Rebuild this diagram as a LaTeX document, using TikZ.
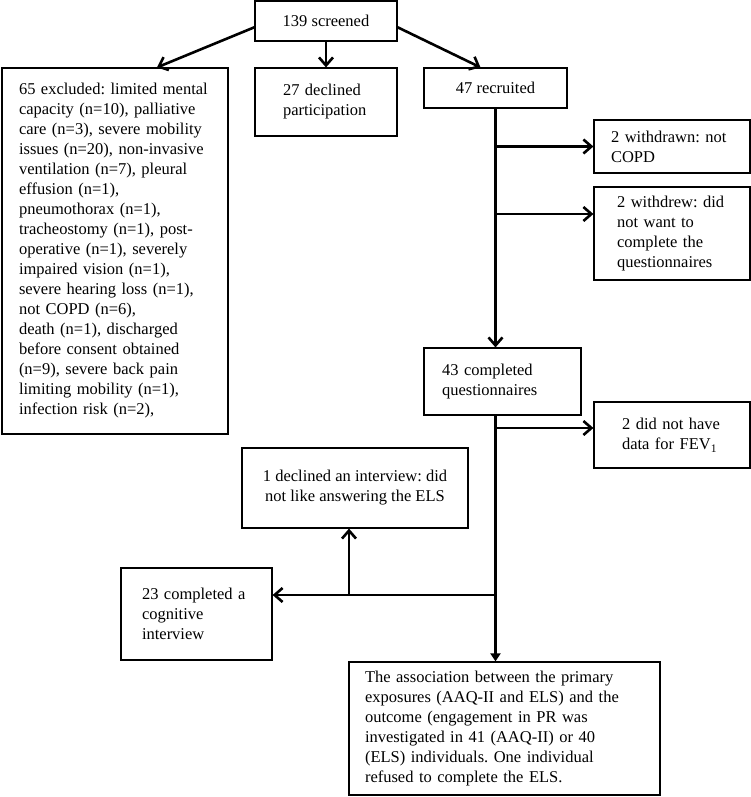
\documentclass[tikz,border=0pt]{standalone}
\usepackage{fontspec}
\setmainfont{Liberation Serif}
\usetikzlibrary{arrows.meta, calc, positioning}

\begin{document}
\begin{tikzpicture}[x=1pt, y=-1pt, > = {Straight Barb[length=8pt,width=14pt]},
	box/.style={draw, line width=1.2pt, inner sep=0pt, align=left, font=\fontsize{16.5}{20}\selectfont\frenchspacing},
	flow/.style={->, line width=2.6pt}]
	\useasboundingbox (0,0) rectangle (751,797);

	% boxes
	\node[box, align=center, minimum width=142pt, minimum height=40pt] (screen) at (326,21) {139 screened};
	\node[box, text width=192pt, minimum width=226pt, minimum height=366pt] (excl) at (115,251) {65 excluded: limited mental\\ capacity (n=10), palliative\\ care (n=3), severe mobility\\ issues (n=20), non-invasive\\ ventilation (n=7), pleural\\ effusion (n=1),\\ pneumothorax (n=1),\\ tracheostomy (n=1), post-\\ operative (n=1), severely\\ impaired vision (n=1),\\ severe hearing loss (n=1),\\ not COPD (n=6),\\ death (n=1), discharged\\ before consent obtained\\ (n=9), severe back pain\\ limiting mobility (n=1),\\ infection risk (n=2),};
	\node[box, text width=86pt, minimum width=142pt, minimum height=68pt] (decl) at (326,102) {27 declined\\ participation};
	\node[box, align=center, minimum width=143pt, minimum height=40pt] (recr) at (495.5,88) {47 recruited};
	\node[box, text width=122pt, minimum width=156pt, minimum height=53pt] (wdn) at (672,146.5) {2 withdrawn: not\\ COPD};
	\node[box, text width=110pt, minimum width=156pt, minimum height=93pt] (wdr) at (672,233.5) {2 withdrew: did\\ not want to\\ complete the\\ questionnaires};
	\node[box, text width=121pt, minimum width=157pt, minimum height=67pt] (compl) at (502.5,381.5) {43 completed\\ questionnaires};
	\node[box, text width=100pt, minimum width=156pt, minimum height=66pt] (fev) at (672,435) {2 did not have\\ data for FEV\textsubscript{1}};
	\node[box, align=center, minimum width=226pt, minimum height=80pt] (intdecl) at (355,488) {1 declined an interview: did\\ not like answering the ELS};
	\node[box, text width=109pt, minimum width=151pt, minimum height=92pt] (cogn) at (196.5,614) {23 completed a\\ cognitive\\ interview};
	\node[box, text width=279pt, minimum width=311pt, minimum height=133pt] (final) at (504.5,728.5) {The association between the primary\\ exposures (AAQ-II and ELS) and the\\ outcome (engagement in PR was\\ investigated in 41 (AAQ-II) or 40\\ (ELS) individuals. One individual\\ refused to complete the ELS.};

	% arrow ends
	\coordinate (wdrarr) at ([yshift=19.5pt]wdr.west);
	\coordinate (fevarr) at ([yshift=7pt]fev.west);
	\coordinate (cognarr) at ([yshift=19pt]cogn.east);
	\coordinate (intarr) at ([xshift=-6pt]intdecl.south);

	% arrows
	\draw[flow] (screen.185) -- ([xshift=42pt]excl.north);
	\draw[flow] (screen.south) -- (decl.north);
	\draw[flow] (screen.355) -- ([xshift=-15pt]recr.north);
	\draw[flow] (recr.south) -- (recr.south |- compl.north);
	\draw[flow] (recr.south |- wdn.west) -- (wdn.west);
	\draw[flow] (recr.south |- wdrarr) -- (wdrarr);
	\draw[flow] (recr.south |- fevarr) -- (fevarr);
	\draw[flow] (recr.south |- cognarr) -- (cognarr);
	\draw[flow] (intarr |- cognarr) -- (intarr);
	\draw[line width=2.6pt, -{Triangle[length=8pt,width=10pt]}] (recr.south |- compl.south) -- (recr.south |- final.north);
\end{tikzpicture}
\end{document}
